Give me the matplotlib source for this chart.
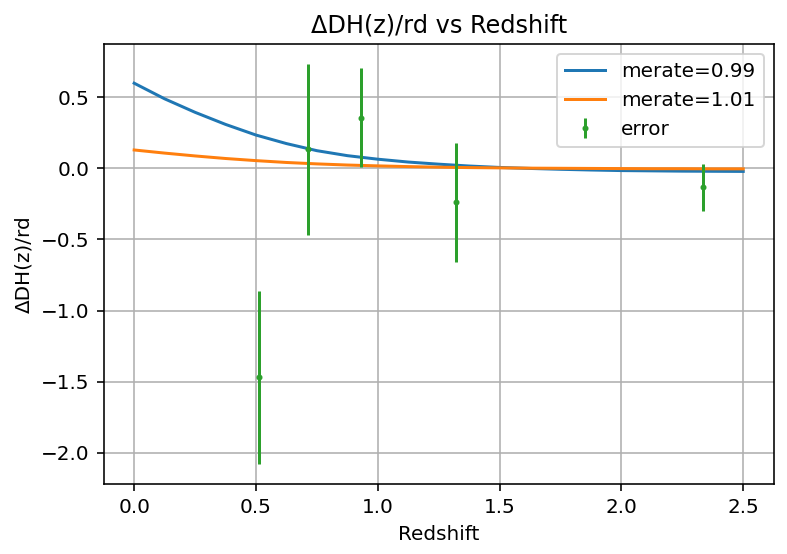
import numpy as np
import matplotlib
matplotlib.use('Agg')
import matplotlib.pyplot as plt

#------------------------------------------------------------------------------
# values
#------------------------------------------------------------------------------

z = [0.0, 0.125, 0.25, 0.375, 0.5, 0.625, 0.75, 0.875, 1.0, 1.125, 1.25,
     1.375, 1.5, 1.625, 1.75, 1.875, 2.0, 2.125, 2.25, 2.375, 2.5]

dh_099 = [0.600, 0.490, 0.395, 0.310, 0.235, 0.175, 0.125, 0.090, 0.065, 0.045, 0.030,
          0.017, 0.007, 0.000, -0.006, -0.011, -0.015, -0.017, -0.019, -0.020, -0.021]

dh_101 = [0.130, 0.108, 0.088, 0.070, 0.055, 0.042, 0.032, 0.024, 0.018, 0.013, 0.009,
          0.006, 0.004, 0.002, 0.001, 0.000, -0.001, -0.002, -0.002, -0.003, -0.003]

z_obs = [0.513, 0.712, 0.932, 1.322, 2.333]
dh_obs = [-1.47, 0.135, 0.358, -0.239, -0.133]
dh_err = [0.61, 0.60, 0.346, 0.417, 0.163]

#------------------------------------------------------------------------------

dpi = 144
fig = plt.figure(figsize=(787/dpi, 554/dpi), dpi=dpi)
ax = fig.add_axes([103.7/787, 1-484/554, (773.7-103.7)/787, (484-44)/554])

ax.plot(z, dh_099, label='merate=0.99')
ax.plot(z, dh_101, label='merate=1.01')
ax.errorbar(z_obs, dh_obs, yerr=dh_err, fmt='o', markersize=2, label='error')

ax.set_xlabel('Redshift')
ax.set_ylabel('ΔDH(z)/rd')
ax.set_title('ΔDH(z)/rd vs Redshift')
ax.grid(True)
ax.legend(loc='upper right')

fig.savefig('out.png', dpi=dpi)
